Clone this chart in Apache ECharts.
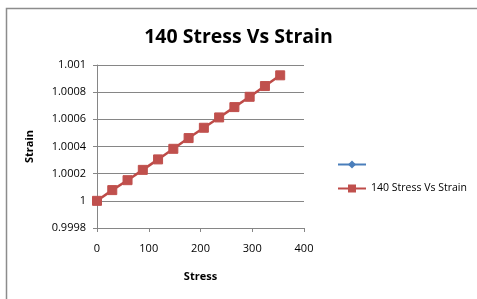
<!DOCTYPE html>
<html><head><meta charset="utf-8">
<script src="https://cdn.jsdelivr.net/npm/echarts@6/dist/echarts.min.js"></script>
<style>html,body{margin:0;padding:0;background:#fff}#c{width:477px;height:299px}</style>
</head><body><div id="c"></div>
<script>
var stress = [0, 29.5, 59, 88.5, 118, 147.5, 177, 206.5, 236, 265.5, 295, 324.5, 354];
var strain = [1.0, 1.000079, 1.000152, 1.000228, 1.000305, 1.000383, 1.000462, 1.000538, 1.000614, 1.00069, 1.000766, 1.000845, 1.000924];
var yTicks = ['0.9998', '1', '1.0002', '1.0004', '1.0006', '1.0008', '1.001'];
var seriesName = '140 Stress Vs Strain';

var chart = echarts.init(document.getElementById('c'));
var font = 'Open Sans';
chart.setOption({
  animation: false,
  textStyle: {fontFamily: font},
  graphic: [{type: 'rect', shape: {x: 6.5, y: 8.5, width: 480, height: 300}, style: {fill: 'none', stroke: '#8c8c8c', lineWidth: 1.5}, z: -1}],
  title: {text: '140 Stress Vs Strain', left: 'center', top: 22,
    textStyle: {fontFamily: font, fontSize: 19.5, fontWeight: 'bold', color: '#000'}},
  grid: {left: 97, right: 173, top: 65, bottom: 71},
  legend: {orient: 'vertical', left: 332, top: 154, itemGap: 13, itemWidth: 28, itemHeight: 10,
    textStyle: {fontFamily: font, fontSize: 10.5, color: '#000'},
    data: [' ', seriesName]},
  xAxis: {type: 'value', min: 0, max: 400, interval: 100,
    name: 'Stress', nameLocation: 'middle', nameGap: 43,
    nameTextStyle: {fontFamily: font, fontSize: 11, fontWeight: 'bold', color: '#000'},
    axisLine: {show: true, lineStyle: {color: '#868686'}},
    axisTick: {show: true, length: 4, lineStyle: {color: '#868686'}},
    axisLabel: {fontFamily: font, fontSize: 11, color: '#000', margin: 15},
    splitLine: {show: false}},
  yAxis: {type: 'value', min: 0.9998, max: 1.001, interval: 0.0002,
    name: 'Strain', nameLocation: 'middle', nameGap: 62, nameRotate: 90,
    nameTextStyle: {fontFamily: font, fontSize: 11, fontWeight: 'bold', color: '#000'},
    axisLine: {show: true, lineStyle: {color: '#868686'}},
    axisTick: {show: true, length: 4, lineStyle: {color: '#868686'}},
    axisLabel: {fontFamily: font, fontSize: 11, color: '#000', margin: 11,
      formatter: function (v) { var i = Math.round((v - 0.9998) / 0.0002); return yTicks[i]; }},
    splitLine: {show: true, lineStyle: {color: '#868686'}}},
  series: [
    {name: ' ', type: 'line', data: [], symbol: 'diamond', symbolSize: 7,
     itemStyle: {color: '#4a7ebb'}, lineStyle: {color: '#4a7ebb', width: 2.5}},
    {name: seriesName, type: 'line', symbol: 'rect', symbolSize: 9,
     data: stress.map(function (s, i) { return [s, strain[i]]; }),
     itemStyle: {color: '#c0504d', borderColor: '#c0504d'}, lineStyle: {color: '#be4b48', width: 2.5}}
  ]
});
</script></body></html>
